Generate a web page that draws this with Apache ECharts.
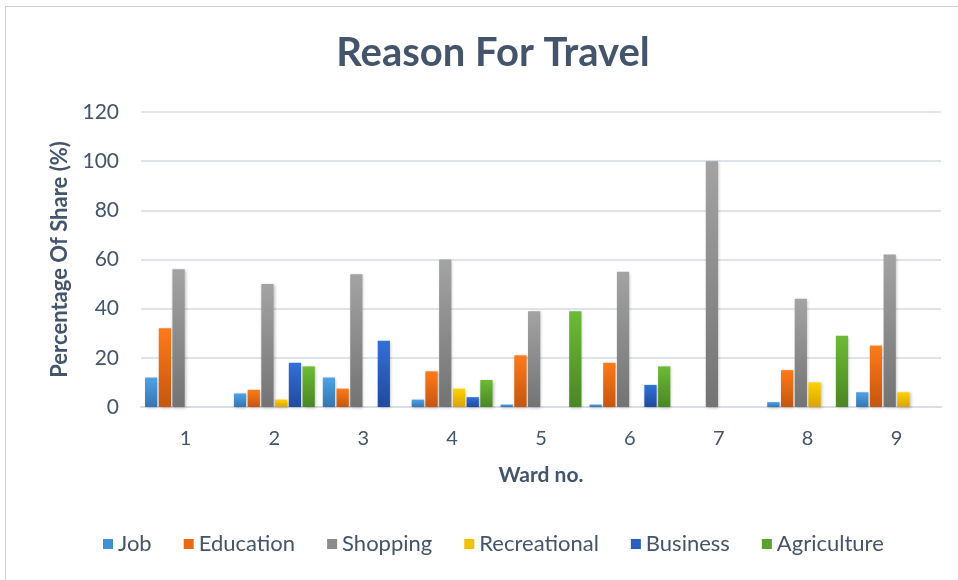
<!DOCTYPE html>
<html>
<head>
<meta charset="utf-8">
<script src="https://cdn.jsdelivr.net/npm/echarts@6/dist/echarts.min.js"></script>
<style>
  html, body { margin: 0; padding: 0; background: #ffffff; }
  #frame { position: absolute; left: 5px; top: 6px; width: 960px; height: 580px; border-left: 1px solid #d0d0d0; border-top: 1px solid #d0d0d0; }
  #chart { width: 958px; height: 580px; }
</style>
</head>
<body>
<div id="frame"></div>
<div id="chart"></div>
<script>
// Wards on the x axis
const wards = ['1', '2', '3', '4', '5', '6', '7', '8', '9'];

// Share of trips (%) by purpose, per ward
const job          = [12, 5.5, 12, 3, 1, 1, 0, 2, 6];
const education    = [32, 7, 7.5, 14.5, 21, 18, 0, 15, 25];
const shopping     = [56, 50, 54, 60, 39, 55, 100, 44, 62];
const recreational = [0, 3, 0, 7.5, 0, 0, 0, 10, 6];
const business     = [0, 18, 27, 4, 0, 9, 0, 0, 0];
const agriculture  = [0, 16.5, 0, 11, 39, 16.5, 0, 29, 0];

const yTicks = { min: 0, max: 120, interval: 20 };

const textColor = '#44546a';
const font = 'Lato, "Open Sans", sans-serif';

function grad(top, bottom) {
  return new echarts.graphic.LinearGradient(0, 0, 0, 1, [
    { offset: 0, color: top },
    { offset: 1, color: bottom }
  ]);
}

function barSeries(name, data, top, bottom) {
  return {
    name: name,
    type: 'bar',
    data: data,
    barGap: '12%',
    barCategoryGap: '9%',
    itemStyle: {
      color: grad(top, bottom),
      shadowColor: 'rgba(0,0,0,0.25)',
      shadowBlur: 3,
      shadowOffsetX: 1,
      shadowOffsetY: 1
    },
    emphasis: { disabled: true }
  };
}

const series = [
  barSeries('Job', job, '#4ea3e6', '#3675b0'),
  barSeries('Education', education, '#ff7a1a', '#c4560f'),
  barSeries('Shopping', shopping, '#a3a3a3', '#737373'),
  barSeries('Recreational', recreational, '#ffd200', '#d9a300'),
  barSeries('Business', business, '#3170da', '#22499c'),
  barSeries('Agriculture', agriculture, '#6cbb35', '#4b8624')
];

const legendColors = ['#3f8fd2', '#e86a14', '#8c8c8c', '#f2c000', '#2a5fc0', '#5ea22e'];

const chart = echarts.init(document.getElementById('chart'), null, { renderer: 'canvas' });
chart.setOption({
  animation: false,
  backgroundColor: 'transparent',
  title: {
    text: 'Reason For Travel',
    left: 488,
    textAlign: 'center',
    top: 28,
    textStyle: { fontFamily: font, fontSize: 40, fontWeight: 'bold', color: textColor }
  },
  legend: {
    bottom: 20,
    left: 98,
    itemWidth: 10,
    itemHeight: 10,
    itemGap: 32,
    icon: 'rect',
    textStyle: { fontFamily: font, fontSize: 22, color: textColor, padding: [0, 0, 0, 0] },
    data: series.map((s, i) => ({ name: s.name, itemStyle: { color: legendColors[i] } }))
  },
  grid: { left: 141, right: 17, top: 112, bottom: 173, containLabel: false },
  xAxis: {
    type: 'category',
    data: wards,
    name: 'Ward no.',
    nameLocation: 'middle',
    nameGap: 58,
    nameTextStyle: { fontFamily: font, fontSize: 21, fontWeight: 'bold', color: textColor },
    axisLine: { lineStyle: { color: '#d9dde5', width: 2 } },
    axisTick: { show: false },
    axisLabel: { fontFamily: font, fontSize: 20, color: textColor, margin: 22 }
  },
  yAxis: {
    type: 'value',
    min: yTicks.min,
    max: yTicks.max,
    interval: yTicks.interval,
    name: 'Percentage Of Share (%)',
    nameLocation: 'middle',
    nameGap: 70,
    nameRotate: 90,
    nameTextStyle: { fontFamily: font, fontSize: 22, fontWeight: 'bold', color: textColor },
    axisLine: { show: false },
    axisTick: { show: false },
    axisLabel: { fontFamily: font, fontSize: 21, color: textColor, margin: 22 },
    splitLine: { lineStyle: { color: '#dfe3ea', width: 2 } }
  },
  series: series
});
</script>
</body>
</html>
